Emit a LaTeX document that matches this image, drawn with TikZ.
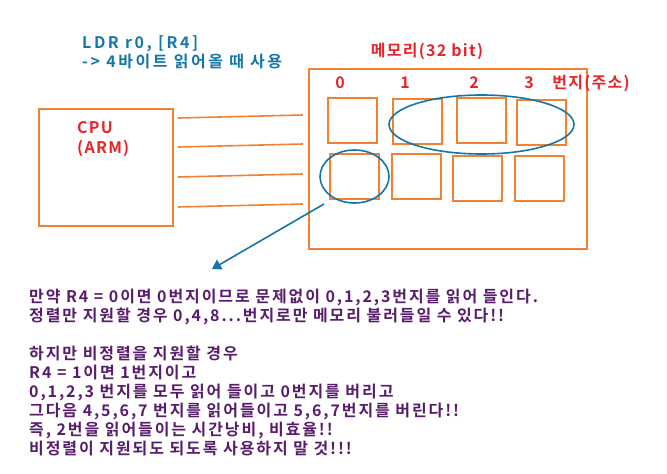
\documentclass[tikz,border=0pt]{standalone}
\usepackage{fontspec}
\setmainfont{Noto Sans CJK KR}[BoldFont={Noto Sans CJK KR Bold}]
\newfontfamily\notefont{Noto Sans CJK KR}[BoldFont={Noto Sans CJK KR Bold},LetterSpace=8]
\newfontfamily\bodyfont{Noto Sans CJK KR}[BoldFont={Noto Sans CJK KR Bold},LetterSpace=12]
\newfontfamily\ldrfont{Noto Sans CJK KR}[BoldFont={Noto Sans CJK KR Bold},LetterSpace=16]
\usetikzlibrary{arrows.meta,shapes.geometric}

\definecolor{memorange}{RGB}{242,130,50}
\definecolor{notered}{RGB}{232,36,40}
\definecolor{noteblue}{RGB}{18,118,168}
\definecolor{notepurple}{RGB}{88,28,108}

\tikzset{
    box/.style={draw=memorange,line width=1.6pt,anchor=north west,inner sep=0pt},
    cell/.style={box,minimum width=49pt,minimum height=45pt},
    bus/.style={memorange,line width=1.6pt},
    mark ring/.style={draw=noteblue,line width=1.6pt,ellipse,inner sep=0pt},
    pointer/.style={noteblue,line width=1.6pt,-{Triangle[length=9pt,width=11pt]}},
    redtext/.style={text=notered,font=\notefont\fontsize{16}{20}\selectfont\bfseries,inner sep=0pt}
}

\begin{document}
\begin{tikzpicture}[x=1pt,y=-1pt]
    \useasboundingbox (0,0) rectangle (667,474);

    \node[anchor=west,align=left,text=noteblue,inner sep=0pt,
          font=\ldrfont\fontsize{16}{19}\selectfont\bfseries] (ldr) at (82,52.5)
        {LDR r0, [R4]\\-> 4바이트 읽어올 때 사용};

    \node[box,minimum width=134pt,minimum height=117pt] (cpu) at (38,108) {};
    \node[redtext,anchor=west,align=left] (cpuname) at (77,139) {CPU\\(ARM)};

    \node[box,minimum width=278pt,minimum height=180pt] (mem) at (308,68) {};
    \node[redtext] (memname) at (427,51) {메모리(32 bit)};

    \foreach \n/\x in {0/340,1/405,2/474,3/529}
        \node[redtext] (addr\n) at (\x,83) {\n};
    \node[redtext] (addrname) at (591,83) {번지(주소)};

    \foreach \i/\x/\y in {1/327/97,2/392/98,3/456/97,4/516/99,
                          5/329/153,6/391/153,7/452/155,8/514/155}
        \node[cell] (c\i) at (\x,\y) {};

    \foreach \i/\ya/\yb in {1/118/115,2/147/144,3/177/174,4/207/204} {
        \coordinate (bus\i a) at (178,\ya);
        \coordinate (bus\i b) at (303,\yb);
        \draw[bus] (bus\i a) -- (bus\i b);
    }

    \node[mark ring,minimum width=185pt,minimum height=59pt] (row) at (481.5,124.5) {};
    \node[mark ring,minimum width=69pt,minimum height=53pt] (first) at (354.5,176.5) {};

    \coordinate (tail) at (324,204);
    \coordinate (tip) at (212,269);
    \draw[pointer] (tail) -- (tip);

    \node[anchor=north west,align=left,text=notepurple,inner sep=0pt,
          font=\bodyfont\fontsize{16}{19}\selectfont\bfseries] (note) at (29,289)
        {만약 R4 = 0이면 0번지이므로 문제없이 0,1,2,3번지를 읽어 들인다.\\
         정렬만 지원할 경우 0,4,8...번지로만 메모리 불러들일 수 있다!!\\[19pt]
         하지만 비정렬을 지원할 경우\\
         R4 = 1이면 1번지이고\\
         0,1,2,3 번지를 모두 읽어 들이고 0번지를 버리고\\
         그다음 4,5,6,7 번지를 읽어들이고 5,6,7번지를 버린다!!\\
         즉, 2번을 읽어들이는 시간낭비, 비효율!!\\
         비정렬이 지원되도 되도록 사용하지 말 것!!!};
\end{tikzpicture}
\end{document}
